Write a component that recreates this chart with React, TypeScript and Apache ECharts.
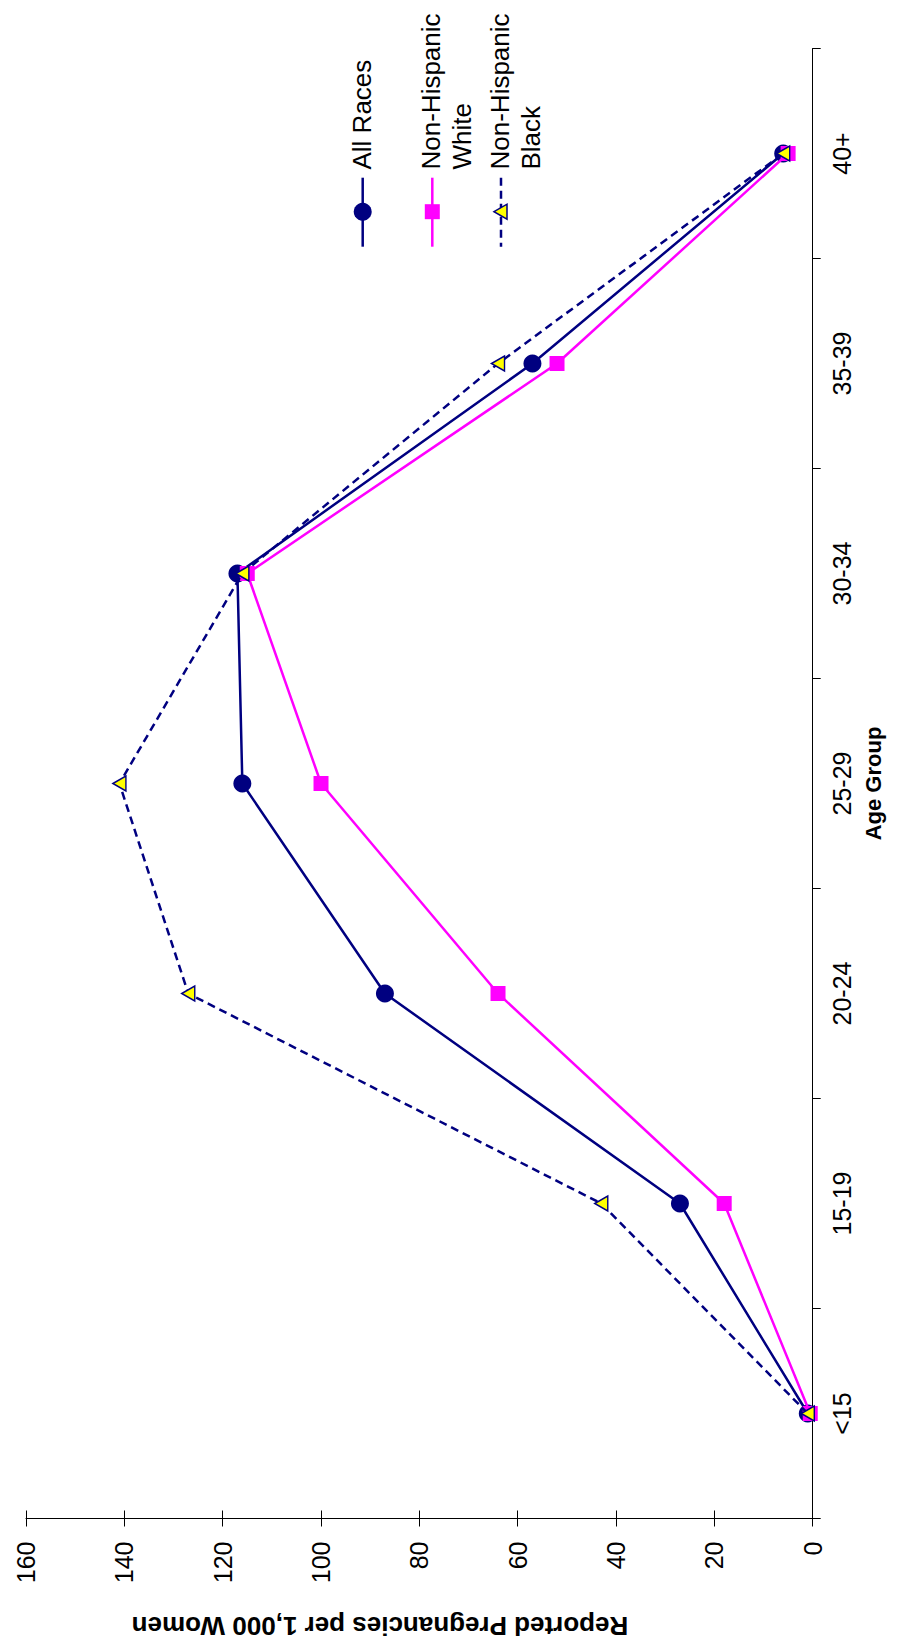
import React, { useEffect, useRef } from 'react';
import * as echarts from 'echarts';

const categories = ['<15', '15-19', '20-24', '25-29', '30-34', '35-39', '40+'];
const allRaces = [1, 27, 87, 116, 117, 57, 6];
const nonHispanicWhite = [0.5, 18, 64, 100, 115, 52, 5];
const nonHispanicBlack = [1, 43, 127, 141, 116, 64, 6];
const seriesNames = ['All Races', 'Non-Hispanic White', 'Non-Hispanic Black'];
const legendLines = [['All Races'], ['Non-Hispanic', 'White'], ['Non-Hispanic', 'Black']];
const valueTickLabels = ['0', '20', '40', '60', '80', '100', '120', '140', '160'];
const xTitle = 'Reported Pregnancies per 1,000 Women';
const yTitle = 'Age Group';

const NAVY = '#000080';
const MAGENTA = '#FF00FF';
const YELLOW = '#FFFF00';
const FONT = 'Arial, "Liberation Sans", sans-serif';

export default function App() {
  const ref = useRef<HTMLDivElement>(null);
  useEffect(() => {
    if (!ref.current) return;
    const chart = echarts.init(ref.current, undefined, { renderer: 'svg' });
    const vMax = Number(valueTickLabels[valueTickLabels.length - 1]);
    const vInt = Number(valueTickLabels[1]) - Number(valueTickLabels[0]);

    const legendX = [362.7, 432.3, 501];
    const symY = 211.7;
    const graphics: any[] = [];
    legendX.forEach((lx, i) => {
      const color = i === 1 ? MAGENTA : NAVY;
      graphics.push({
        type: 'line',
        shape: { x1: lx, y1: 177.7, x2: lx, y2: 246.7 },
        style: { stroke: color, lineWidth: 2.5, lineDash: i === 2 ? [8, 5] : null },
      });
      if (i === 0) {
        graphics.push({ type: 'circle', shape: { cx: lx, cy: symY, r: 9 }, style: { fill: NAVY } });
      } else if (i === 1) {
        graphics.push({ type: 'rect', shape: { x: lx - 7.5, y: symY - 7.5, width: 15, height: 15 }, style: { fill: MAGENTA } });
      } else {
        graphics.push({
          type: 'polygon',
          shape: { points: [[lx - 7, symY], [lx + 6, symY - 7.5], [lx + 6, symY + 7.5]] },
          style: { fill: YELLOW, stroke: NAVY, lineWidth: 1.5 },
        });
      }
      legendLines[i].forEach((t, j) => {
        graphics.push({
          type: 'text',
          x: lx - 1 + j * 31,
          y: 169.5,
          rotation: Math.PI / 2,
          style: {
            text: t,
            fontSize: 26,
            fontFamily: FONT,
            fill: '#000',
            align: 'left',
            verticalAlign: 'middle',
            textAlign: 'left',
            textVerticalAlign: 'middle',
          },
        });
      });
    });
    graphics.push({
      type: 'text',
      x: 380,
      y: 1626,
      rotation: Math.PI,
      style: {
        text: xTitle,
        fontSize: 26,
        fontWeight: 'bold',
        fontFamily: FONT,
        fill: '#000',
        align: 'center',
        verticalAlign: 'middle',
        textAlign: 'center',
        textVerticalAlign: 'middle',
      },
    });

    const valueAxisBase = {
      type: 'value',
      min: 0,
      max: vMax,
      interval: vInt,
      inverse: true,
      position: 'bottom',
      splitLine: { show: false },
    };

    chart.setOption({
      animation: false,
      backgroundColor: '#fff',
      grid: { left: 26, right: 95.3, top: 48.5, bottom: 123.5, containLabel: false },
      xAxis: [
        {
          ...valueAxisBase,
          axisLine: { show: true, lineStyle: { color: '#000', width: 1 } },
          axisTick: { show: true, length: 8, lineStyle: { color: '#000' } },
          axisLabel: {
            rotate: 90,
            margin: 23,
            fontSize: 25,
            fontFamily: FONT,
            color: '#000',
            formatter: (v: number) => valueTickLabels[Math.round(v / vInt)] ?? String(v),
          },
        },
        {
          ...valueAxisBase,
          axisLine: { show: false },
          axisTick: { show: true, inside: true, length: 8, lineStyle: { color: '#000' } },
          axisLabel: { show: false },
        },
      ],
      yAxis: {
        type: 'category',
        data: categories,
        position: 'right',
        boundaryGap: true,
        axisLine: { show: true, lineStyle: { color: '#000', width: 1 } },
        axisTick: { show: true, length: 8, lineStyle: { color: '#000' } },
        axisLabel: {
          rotate: 90,
          interval: 0,
          margin: 17,
          fontSize: 25,
          fontFamily: FONT,
          color: '#000',
        },
        splitLine: { show: false },
        name: yTitle,
        nameLocation: 'middle',
        nameRotate: 90,
        nameGap: 29,
        nameTextStyle: { fontSize: 22, fontWeight: 'bold', fontFamily: FONT, color: '#000' },
      },
      series: [
        {
          name: seriesNames[0],
          data: allRaces,
          symbol: 'circle',
          symbolSize: 18,
          lineStyle: { color: NAVY, width: 2.5 },
          itemStyle: { color: NAVY },
          z: 2,
        },
        {
          name: seriesNames[1],
          data: nonHispanicWhite,
          symbol: 'rect',
          symbolSize: 15,
          lineStyle: { color: MAGENTA, width: 2.5 },
          itemStyle: { color: MAGENTA },
          z: 3,
        },
        {
          name: seriesNames[2],
          data: nonHispanicBlack,
          symbol: 'triangle',
          symbolSize: [15, 13],
          symbolRotate: 90,
          lineStyle: { color: NAVY, width: 2.5, type: [8, 5] },
          itemStyle: { color: YELLOW, borderColor: NAVY, borderWidth: 1.5 },
          z: 4,
        },
      ].map((s: any) => ({
        ...s,
        type: 'line',
        xAxisIndex: 0,
        yAxisIndex: 0,
        data: s.data.map((v: number, i: number) => [v, categories[i]]),
      })),
      graphic: { elements: graphics },
    });
    return () => chart.dispose();
  }, []);
  return (
    <div
      ref={ref}
      style={{ position: 'absolute', left: 0, top: 0, width: 908, height: 1642 }}
    />
  );
}
